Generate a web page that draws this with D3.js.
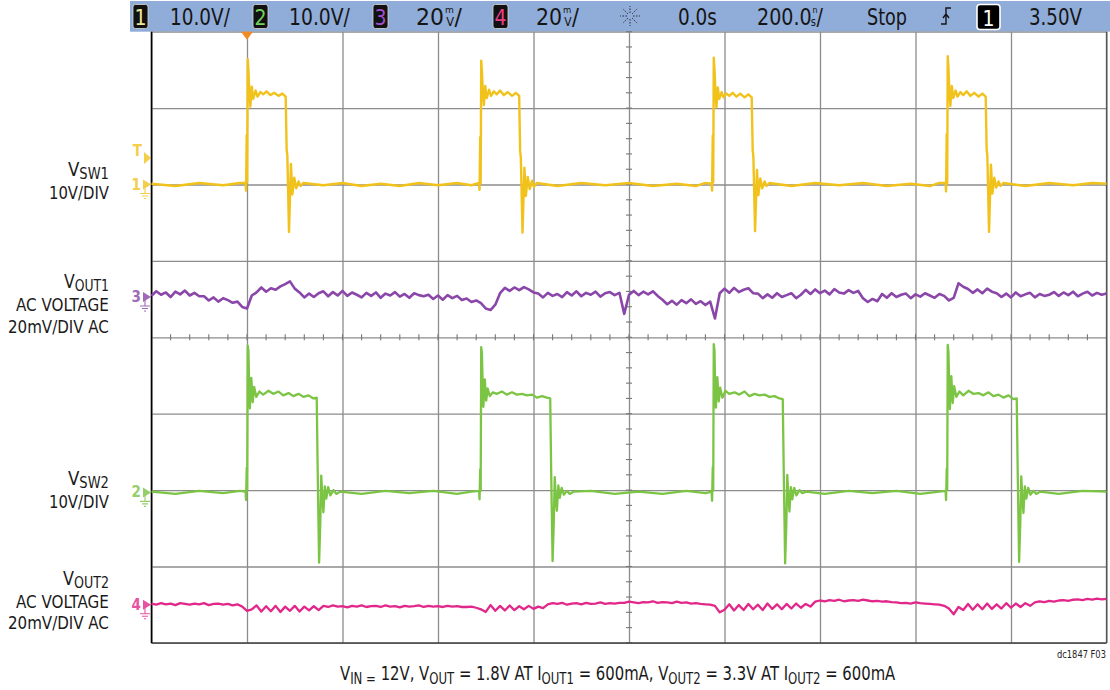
<!DOCTYPE html>
<html><head><meta charset="utf-8">
<script src="https://cdn.jsdelivr.net/npm/d3@7"></script>
<style>
html,body{margin:0;padding:0;background:#fff;}
svg{display:block;}
text{font-family:"Liberation Sans Narrow","DejaVu Sans Condensed","Liberation Sans",sans-serif;}
</style></head><body>
<svg id="c" width="1110" height="690"></svg>
<script>
// ---------------- DATA ----------------
// time axis: 200 ns/div, 10 divisions, 0.0s at centre
const timeDivTicks = [-1000,-800,-600,-400,-200,0,200,400,600,800,1000];
const voltDivTicks = [-4,-3,-2,-1,0,1,2,3,4];
// sampled AC traces (10 ns sample spacing, starting at -1000 ns)
const acSampleStartNs = -1000, acSampleStepNs = 10;
const vout1_mV = [0.3,1.5,0.6,1.2,0.0,1.4,0.7,1.7,0.4,1.1,0.2,
 0.2,-0.9,-0.1,-1.2,-0.3,-0.8,-1.5,
 -1.2,-2.6,-3.0, 0.4, 1.2,2.5,1.4,2.3,1.9, 2.8,3.4, 4.1, 2.2,
 1.2,-0.1,0.9,0.0,1.0,
 1.5,0.2,1.3,0.4,1.6,0.3,1.2,0.6,
 -0.1,1.1,0.3,1.2,-0.2,0.9,0.4,1.3,0.1,0.8,-0.2,1.0,0.5,0.2,
 0.6,-0.5,0.4,-0.7,0.5,-0.3,0.3,-0.8,
 -0.4,-1.3,-0.9, -1.6,-3.0,-3.4,-2.0, 1.0,2.4,1.6,2.5, 1.8,2.6,2.0,1.2,
 0.9,-0.1,1.1,0.3,0.8,0.0,
 1.3,0.4,1.5,0.2,1.1,0.6,1.4,0.1,1.0,1.3,0.5,1.1,
 -4.4, 0.6,
 1.6,0.5,1.4,0.7,1.5,0.3,
 -0.7,-1.9,-1.0,-2.0,-0.8,-1.6,-0.6,-1.8,-1.1,-2.1,-1.2,
 -5.6, 1.0,
 2.2,1.1,2.4,1.3,1.9,2.3,1.0,
 0.9,-0.3,0.7,-0.2,1.0,0.0,0.5,1.0,-0.3,0.6,
 1.9,0.8,2.0,1.0,1.7,0.7,2.1,1.2,0.9,1.8,1.1,1.6,
 -0.3,-1.3,-0.5,-1.1,
 0.8,-0.2,1.0,0.0,0.6,0.9,-0.3,0.7,0.1,1.0,0.4,-0.2,0.8,0.3,
 -0.9,-0.2, 3.6,2.7,
 2.1,1.1,2.0,1.0,2.2,1.4,
 1.0,0.0,0.9,-0.1,1.2,0.2,0.7,1.1,-0.1,0.8,0.3,0.6,
 1.3,0.3,1.2,0.5,1.4,0.2,0.9,1.4,0.4,1.1,0.6,0.9];
const vout2_mV = [0.3,0.0,0.4,0.1,0.3,-0.1,0.4,0.2,0.0,0.3,0.1,0.4,-0.1,0.2,0.3,0.0,0.2,-0.2,0.1,
 -0.5,-1.6, -1.2,
 -0.2,-1.8,-0.4,-1.7,-0.3,-1.9,-0.5,-1.6,-0.3,-1.8,-0.5,-1.5,-0.4,-1.4,
 -0.3,-0.6,-0.2,-0.5,-0.4,-0.7,-0.3,-0.5,-0.2,-0.6,-0.4,-0.3,-0.6,-0.2,-0.5,-0.4,-0.7,-0.3,-0.5,-0.4,-0.2,-0.6,-0.3,-0.5,-0.4,-0.6,-0.3,-0.5,-0.4,-0.6,
 -0.6,-0.5,-0.8,-1.2, -1.9,
 -0.1,-1.6,-0.3,-1.5,-0.2,-1.4,-0.4,-1.2,-0.3,-1.1,-0.5,-0.9,
 0.1,0.4,0.2,0.5,0.0,0.3,0.4,0.1,0.5,0.2,0.3,0.6,0.2,0.4,0.3,0.5,
 0.5,0.8,0.6,0.4,0.7,0.6,0.9,0.5,0.7,0.6,0.4,0.8,0.5,0.6,0.3,0.4,0.2,0.1,0.0,
 -0.3, -2.0,
 -1.3,0.1,-1.5,-0.1,-1.4,0.2,-1.2,0.0,-1.4,0.3,-1.1,0.1,-1.2,0.2,-1.0,0.3,-0.8,0.2,-0.5,
 0.8,1.1,0.9,1.2,1.0,1.3,0.9,1.1,1.2,1.0,1.3,1.1,0.9,1.0,0.8,0.9,0.7,
 0.6,0.4,0.5,0.3,0.6,0.4,0.3,0.2,0.1,0.0,
 -0.3,-1.0, -2.5,
 -0.6,-1.4,0.2,-1.3,0.1,-1.2,0.3,-1.1,0.1,-1.0,0.4,-0.8,0.3,-0.6,0.4,-0.3,
 0.6,0.9,0.7,1.0,0.8,1.1,1.2,1.0,1.3,1.4,1.2,1.5,1.3,1.6,1.4,1.5];
// switch node traces: [time ns, volts]
const vsw1_V = [[-1000,0.1],[-950,-0.2],[-900,0.2],[-850,-0.1],[-815,0.2],
 [-803,0.2],[-802,-0.8],[-800.6,6.5],[-799.6,0.3],[-798.5,16.4],[-797,15.0],[-795,12.0],[-793,10.2],[-790,12.8],[-787,11.2],[-782,12.3],[-778,11.5],[-772,12.1],[-766,11.8],[-759,12.2],[-751,11.7],[-743,12.0],[-734,11.6],[-726,11.9],[-719,11.5],
 [-717,4.6],[-715.5,3.8],[-712,-6.2],[-708,2.7],[-705,-1.3],[-701,0.9],[-697,-0.5],[-692,0.4],[-688,-0.2],[-682,0.2],
 [-640,-0.1],[-600,0.2],[-560,-0.2],[-520,0.1],[-480,-0.2],[-440,0.2],[-400,-0.1],[-360,0.2],[-330,-0.1],
 [-314,0.2],[-313,-0.7],[-311.6,6.2],[-310.6,0.2],[-309.5,16.2],[-308,14.8],[-306,12.1],[-304,10.4],[-301,12.9],[-298,11.3],[-293,12.4],[-289,11.6],[-283,12.2],[-277,11.8],[-270,12.3],[-262,11.7],[-254,12.1],[-245,11.6],[-237,12.0],[-230,11.6],
 [-228,4.4],[-226.5,3.5],[-223,-6.3],[-219,2.2],[-216,-1.5],[-212,1.0],[-208,-0.6],[-203,0.5],[-199,-0.3],[-193,0.2],
 [-150,-0.2],[-100,0.2],[-50,-0.1],[0,0.2],[50,-0.2],[100,0.1],[140,-0.2],[160,0.2],
 [173,0.1],[174,-0.8],[175.4,6.4],[176.4,0.3],[177.5,16.6],[179,15.1],[181,12.2],[183,10.1],[186,12.7],[189,11.2],[194,12.1],[198,11.4],[204,11.9],[210,11.6],[217,12.0],[225,11.5],[233,11.9],[242,11.4],[250,11.8],[257,11.4],
 [259,4.5],[260.5,3.6],[264,-6.1],[268,1.9],[271,-1.4],[275,0.8],[279,-0.5],[284,0.4],[288,-0.2],[294,0.2],
 [340,-0.2],[390,0.2],[440,-0.1],[490,0.2],[540,-0.2],[590,0.1],[630,-0.2],[650,0.2],
 [663,0.2],[664,-0.9],[665.4,6.6],[666.4,0.2],[667.5,16.8],[669,15.3],[671,12.0],[673,10.3],[676,12.9],[679,11.3],[684,12.3],[688,11.5],[694,12.1],[700,11.7],[707,12.2],[715,11.6],[723,12.0],[732,11.5],[740,11.9],[747,11.5],
 [749,4.6],[750.5,3.7],[754,-6.2],[758,2.6],[761,-1.2],[765,0.9],[769,-0.4],[774,0.4],[778,-0.2],[784,0.2],
 [830,-0.2],[880,0.2],[930,-0.1],[970,0.2],[1000,0.1]];
const vsw2_V = [[-1000,0.1],[-950,-0.2],[-900,0.2],[-850,-0.1],[-815,0.2],
 [-803,0.1],[-802,-1.0],[-800.6,3.2],[-799.6,0.3],[-798.5,19.2],[-797,18.5],[-795.5,14.0],[-794,11.0],[-791,15.0],[-788,11.8],[-785,13.8],[-780.5,12.5],[-774,13.2],[-766,12.8],[-755,13.3],[-745,12.9],[-734,13.2],[-724,12.7],[-713,13.0],[-703,12.6],[-692,12.9],[-682,12.5],[-671,12.7],[-661,12.3],[-654,12.4],
 [-652,3.0],[-649,-9.2],[-646.5,-4.0],[-644.5,2.2],[-642,-1.0],[-640,-2.6],[-637,0.8],[-634,-0.8],[-630,0.7],[-625.5,-0.4],[-619,0.3],[-613,-0.2],[-605,0.1],
 [-560,-0.2],[-510,0.2],[-460,-0.1],[-410,0.2],[-360,-0.2],[-330,0.1],
 [-314,0.2],[-313,-0.9],[-311.6,3.0],[-310.6,0.2],[-309.5,19.0],[-308,18.2],[-306.5,14.3],[-305,11.2],[-302,14.8],[-299,12.0],[-296,13.6],[-291.5,12.6],[-285,13.1],[-277,12.9],[-266,13.2],[-256,12.8],[-245,13.1],[-235,12.8],[-224,12.9],[-214,12.7],[-203,12.8],[-193,12.4],[-182,12.6],[-172,12.4],[-165,12.3],
 [-163,2.8],[-160,-9.0],[-157.5,-3.8],[-155.5,2.0],[-153,-1.2],[-151,-2.4],[-148,0.9],[-145,-0.7],[-141,0.6],[-136.5,-0.3],[-130,0.2],[-124,-0.2],[-116,0.1],
 [-80,0.2],[-30,-0.2],[20,0.1],[70,-0.2],[120,0.2],[160,-0.1],
 [173,0.1],[174,-1.1],[175.4,3.3],[176.4,0.2],[177.5,19.4],[179,18.6],[180.5,13.8],[182,11.1],[185,15.1],[188,11.9],[191,13.7],[195.5,12.4],[202,13.3],[210,12.9],[221,13.1],[231,12.8],[242,13.2],[252,12.6],[263,12.9],[273,12.7],[284,12.8],[294,12.5],[305,12.6],[315,12.3],[322,12.2],
 [324,3.1],[327,-9.3],[329.5,-4.1],[331.5,2.3],[334,-0.9],[336,-2.5],[339,0.7],[342,-0.9],[346,0.6],[350.5,-0.4],[357,0.3],[363,-0.1],[371,0.1],
 [410,-0.2],[460,0.2],[510,-0.1],[560,0.2],[610,-0.2],[650,0.1],
 [663,0.2],[664,-1.0],[665.4,3.1],[666.4,0.3],[667.5,19.3],[669,18.4],[670.5,14.1],[672,10.9],[675,15.2],[678,11.7],[681,13.9],[685.5,12.5],[692,13.2],[700,12.7],[711,13.3],[721,12.9],[732,13.0],[742,12.7],[753,13.1],[763,12.6],[774,12.8],[784,12.4],[795,12.7],[805,12.2],[812,12.3],
 [814,2.9],[817,-9.1],[819.5,-3.9],[821.5,2.1],[824,-1.1],[826,-2.7],[829,0.8],[832,-0.8],[836,0.6],[840.5,-0.3],[847,0.2],[853,-0.2],[861,0.1],
 [900,-0.2],[950,0.2],[1000,0.1]];
// header readouts
const headerUnits = ["10.0V/","10.0V/","20","20"];
const timeReadouts = ["0.0s","200.0","Stop","3.50V"];
// left channel labels
const chanLabels = [
 {main:"V", sub:"SW1", lines:["10V/DIV"]},
 {main:"V", sub:"OUT1", lines:["AC VOLTAGE","20mV/DIV AC"]},
 {main:"V", sub:"SW2", lines:["10V/DIV"]},
 {main:"V", sub:"OUT2", lines:["AC VOLTAGE","20mV/DIV AC"]}];
const captionParts = [["V",""],["IN =","sub"],[" 12V, V",""],["OUT","sub"],[" = 1.8V AT I",""],["OUT1","sub"],[" = 600mA, V",""],["OUT2","sub"],[" = 3.3V AT I",""],["OUT2","sub"],[" = 600mA",""]];
const figureId = "dc1847 F03";

// ---------------- LAYOUT / STYLE ----------------
const X0=151.5, X1=1106.5, Y0=31.7, Y1=642.9;
const col = {ch1:"#f2c21c", ch2:"#7cc444", ch3:"#8a46a8", ch4:"#e2278a"};
const svg = d3.select("#c");
const x = d3.scaleLinear().domain([-1000,1000]).range([X0,X1]);
const yDiv = d3.scaleLinear().domain([-4,4]).range([Y1,Y0]);
const ch = {
 ch1:{gnd:2.0, perDiv:10},
 ch2:{gnd:-2.03, perDiv:10},
 ch3:{gnd:0.527, perDiv:20},
 ch4:{gnd:-3.5, perDiv:20}};
const yOf = c => v => yDiv(ch[c].gnd + v/ch[c].perDiv);

function fitX(sel, left, right){
  const b = sel.node().getBBox(); const k=(right-left)/b.width;
  sel.attr("transform",`translate(${left - b.x*k},0) scale(${k},1)`);
}

// header bar
svg.append("rect").attr("x",130).attr("y",1).attr("width",980).attr("height",30.7).attr("fill","#90acd8");

// grid via axes
const gx = svg.append("g").attr("transform",`translate(0,${Y0})`)
  .call(d3.axisTop(x).tickValues(timeDivTicks).tickSize(-(Y1-Y0)).tickFormat(""));
gx.select(".domain").remove();
gx.selectAll("line").attr("stroke","#8c8c8c").attr("stroke-width",1.3);
const gy = svg.append("g").attr("transform",`translate(${X0},0)`)
  .call(d3.axisLeft(yDiv).tickValues(voltDivTicks).tickSize(-(X1-X0)).tickFormat(""));
gy.select(".domain").remove();
gy.selectAll("line").attr("stroke","#8c8c8c").attr("stroke-width",1.3);
// minor ticks on centre lines
const minorT = d3.range(-1000,1001,40);
svg.append("g").selectAll("line").data(minorT).join("line")
  .attr("x1",d=>x(d)).attr("x2",d=>x(d)).attr("y1",yDiv(0)-3).attr("y2",yDiv(0)+3)
  .attr("stroke","#777").attr("stroke-width",1.1);
const minorV = d3.range(-4,4.01,0.2);
svg.append("g").selectAll("line").data(minorV).join("line")
  .attr("y1",d=>yDiv(d)).attr("y2",d=>yDiv(d)).attr("x1",x(0)-3).attr("x2",x(0)+3)
  .attr("stroke","#777").attr("stroke-width",1.1);
// borders
svg.append("line").attr("x1",X0).attr("x2",X1).attr("y1",Y1).attr("y2",Y1).attr("stroke","#444").attr("stroke-width",1.5);
svg.append("line").attr("x1",X1).attr("x2",X1).attr("y1",Y0).attr("y2",Y1).attr("stroke","#555").attr("stroke-width",1.3);
svg.append("line").attr("x1",X0).attr("x2",X0).attr("y1",Y0).attr("y2",Y1).attr("stroke","#000").attr("stroke-width",1.6);

// traces
const acPts = arr => arr.map((v,i)=>[acSampleStartNs+i*acSampleStepNs, v]);
function trace(data, c, w, curve){
  svg.append("path").datum(data)
    .attr("d", d3.line().x(d=>x(d[0])).y(d=>yOf(c)(d[1])).curve(curve||d3.curveLinear))
    .attr("fill","none").attr("stroke",col[c]).attr("stroke-width",w).attr("stroke-linejoin","round");
}
trace(vsw1_V,"ch1",2.4);
trace(acPts(vout1_mV),"ch3",2.6);
trace(vsw2_V,"ch2",2.3);
trace(acPts(vout2_mV),"ch4",2.3);

// trigger time marker
const tx = x(-800);
svg.append("path").attr("d",`M${tx-6},${Y0} L${tx+6},${Y0} L${tx},${Y0+8} Z`).attr("fill","#f08a24");

// channel markers at left
function marker(label, yLevel, color){
  const g = svg.append("g").attr("opacity",0.8);
  g.append("text").attr("x",141).attr("y",yLevel+5).attr("text-anchor","end")
   .attr("font-size",15).attr("font-weight","bold").attr("fill",color).text(label);
  g.append("path").attr("d",`M143,${yLevel-5} L151,${yLevel} L143,${yLevel+5} Z`).attr("fill",color);
  g.append("path").attr("d",`M145,${yLevel+2} V${yLevel+9} M140,${yLevel+9} H150 M142,${yLevel+11.5} H148 M144,${yLevel+14} H146`)
   .attr("stroke",color).attr("stroke-width",1.1).attr("fill","none");
}
marker("1", yOf("ch1")(0), col.ch1);
marker("3", yOf("ch3")(0), col.ch3);
marker("2", yOf("ch2")(0), col.ch2);
marker("4", yOf("ch4")(0), col.ch4);
// trigger level "T"
const tg = svg.append("g").attr("opacity",0.8);
tg.append("text").attr("x",142).attr("y",156).attr("text-anchor","end").attr("font-size",15).attr("font-weight","bold").attr("fill",col.ch1).text("T");
tg.append("path").attr("d","M144,152 L151,158 L144,164 Z").attr("fill",col.ch1);

// header content
function chBox(x0, digit, color){
  svg.append("rect").attr("x",x0).attr("y",4.5).attr("width",15).attr("height",24).attr("rx",2.5)
    .attr("fill","#111").attr("stroke","#d8d8d8").attr("stroke-width",0.8);
  svg.append("text").attr("x",x0+7.5).attr("y",25).attr("text-anchor","middle").attr("font-size",21).attr("fill",color).text(digit);
}
chBox(133,"1","#efe59a"); chBox(253,"2","#74d05a"); chBox(373,"3","#a24fcf"); chBox(493,"4","#ec3d85");
function htext(s, l, r){ const t = svg.append("text").attr("x",0).attr("y",25.5).attr("font-size",23).attr("fill","#151515").text(s); fitX(t,l,r); return t; }
htext(headerUnits[0],170,230);
htext(headerUnits[1],289,350);
// number + stacked unit (small prefix over unit) + slash
function unitText(num, top, bot, l, r){
  const t = svg.append("text").attr("x",0).attr("y",25.5).attr("fill","#151515");
  t.append("tspan").attr("font-size",23).text(num);
  t.append("tspan").attr("font-size",9.5).attr("dy",-12.5).attr("dx",1).text(top);
  t.append("tspan").attr("font-size",12).attr("dy",13.5).attr("dx",-7.2).text(bot);
  t.append("tspan").attr("font-size",23).attr("dy",-1).attr("dx",0.5).text("/");
  fitX(t,l,r);
}
unitText(headerUnits[2],"m","V",416,462);
unitText(headerUnits[3],"m","V",536,579);
// sun icon
const sun = svg.append("g").attr("stroke","#333").attr("stroke-width",1).attr("stroke-dasharray","1.6,1.4");
d3.range(8).forEach(i=>{ const a=i*Math.PI/4; sun.append("line")
  .attr("x1",630+3*Math.cos(a)).attr("y1",16+3*Math.sin(a)).attr("x2",630+10*Math.cos(a)).attr("y2",16+10*Math.sin(a)); });
htext(timeReadouts[0],678,717);
unitText(timeReadouts[1],"n","s",757,823);
htext(timeReadouts[2],867,907);
// trigger edge icon
svg.append("path").attr("d","M941,24 H946 V8 H951 M943,18 L946,14 L949,18").attr("stroke","#151515").attr("stroke-width",1.4).attr("fill","none");
svg.append("rect").attr("x",977).attr("y",4.5).attr("width",23).attr("height",25).attr("rx",3).attr("fill","#000").attr("stroke","#fff").attr("stroke-width",1.6);
svg.append("text").attr("x",988.5).attr("y",25.5).attr("text-anchor","middle").attr("font-size",21).attr("fill","#fff").text("1");
htext(timeReadouts[3],1029,1082);

// left channel labels
const labelPos = [
 {vBase:176.5, vL:68, lineBase:[199], lineL:[49]},
 {vBase:288.5, vL:64, lineBase:[311,333], lineL:[16,8]},
 {vBase:485.5, vL:68, lineBase:[508], lineL:[49]},
 {vBase:585, vL:63, lineBase:[608,629], lineL:[16,8]}];
chanLabels.forEach((lab,i)=>{
  const p = labelPos[i];
  const t = svg.append("text").attr("x",0).attr("y",p.vBase).attr("font-size",19).attr("fill","#1a1a1a");
  t.append("tspan").text(lab.main);
  t.append("tspan").attr("font-size",15).attr("dy",3).text(lab.sub);
  fitX(t,p.vL,109);
  lab.lines.forEach((s,j)=>{
    const u = svg.append("text").attr("x",0).attr("y",p.lineBase[j]).attr("font-size",18).attr("fill","#1a1a1a").text(s);
    fitX(u,p.lineL[j],109);
  });
});

// caption
const cap = svg.append("text").attr("x",0).attr("y",680).attr("font-size",19).attr("fill","#1a1a1a");
let shifted=false;
captionParts.forEach(([s,kind])=>{
  const ts = cap.append("tspan").text(s);
  if(kind==="sub"){ ts.attr("font-size",15).attr("dy",4); shifted=true; }
  else if(shifted){ ts.attr("dy",-4); shifted=false; }
});
fitX(cap,340,896);
const fid = svg.append("text").attr("x",0).attr("y",658).attr("font-size",11).attr("fill","#222").text(figureId);
fitX(fid,1057,1106);
</script>
</body></html>
